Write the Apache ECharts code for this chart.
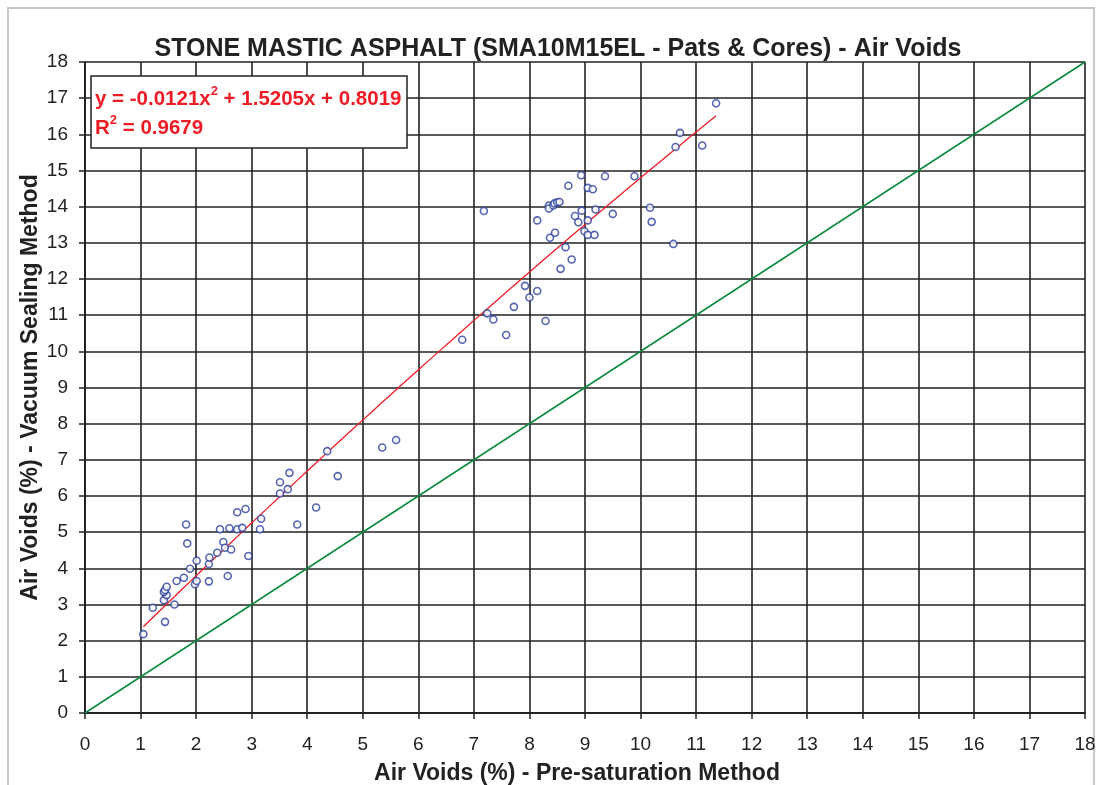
<!DOCTYPE html>
<html>
<head>
<meta charset="utf-8">
<title>SMA Air Voids</title>
<script src="https://cdn.jsdelivr.net/npm/echarts@6/dist/echarts.min.js"></script>
<style>
  html, body { margin: 0; padding: 0; background: #fff; }
  #chart { width: 1097px; height: 785px; }
</style>
</head>
<body>
<div id="chart"></div>
<script>
// Pre-saturation method (x) vs vacuum sealing method (y)
const preSat = [
  1.05, 1.22, 1.44, 1.42, 1.47, 1.42, 1.44, 1.47, 1.61, 1.65,
  1.78, 1.82, 1.84, 1.89, 1.98, 2.01, 2.01, 2.23, 2.23, 2.24,
  2.38, 2.43, 2.49, 2.52, 2.57, 2.60, 2.63, 2.74, 2.74, 2.83,
  2.89, 2.94, 3.15, 3.17, 3.51, 3.51, 3.65, 3.68, 3.82, 4.16,
  4.36, 4.55, 5.35, 5.60, 6.79, 7.24, 7.35, 7.58, 7.72, 7.92,
  8.00, 8.14, 8.29, 7.18, 8.14, 8.37, 8.46, 8.56, 8.65, 8.76,
  8.35, 8.35, 8.43, 8.45, 8.50, 8.54, 8.70, 8.82, 8.88, 8.94,
  8.93, 8.99, 9.05, 9.05, 9.05, 9.14, 9.17, 9.19, 9.36, 9.50,
  9.89, 10.17, 10.20, 10.59, 10.63, 10.71, 11.11, 11.36
];
const vacSeal = [
  2.18, 2.91, 2.52, 3.12, 3.26, 3.35, 3.40, 3.49, 3.00, 3.65,
  3.74, 5.21, 4.69, 3.99, 3.56, 3.65, 4.21, 3.64, 4.12, 4.30,
  4.43, 5.08, 4.73, 4.57, 3.79, 5.11, 4.52, 5.55, 5.08, 5.12,
  5.64, 4.34, 5.08, 5.37, 6.07, 6.38, 6.19, 6.64, 5.21, 5.68,
  7.24, 6.55, 7.34, 7.55, 10.32, 11.05, 10.88, 10.45, 11.23, 11.81,
  11.49, 11.67, 10.84, 13.88, 13.62, 13.14, 13.28, 12.28, 12.88, 12.54,
  14.03, 13.95, 14.03, 14.09, 14.12, 14.13, 14.58, 13.74, 13.57, 13.89,
  14.87, 13.32, 14.52, 13.62, 13.22, 14.48, 13.22, 13.92, 14.84, 13.80,
  14.84, 13.97, 13.58, 12.97, 15.65, 16.04, 15.69, 16.86
];

// trendline shown on the chart: y = a x^2 + b x + c, drawn between the first and last sample
const trendCoef = [-0.0121, 1.5205, 0.8019];
const trendRange = [1.05, 11.36];
const equalityLine = [[0, 0], [18, 18]];

const axisTicks = [0, 18, 1]; // min, max, interval

const points = preSat.map((x, i) => [x, vacSeal[i]]);

const trend = [];
for (let k = 0; k <= 60; k++) {
  const x = trendRange[0] + (trendRange[1] - trendRange[0]) * k / 60;
  trend.push([x, trendCoef[0] * x * x + trendCoef[1] * x + trendCoef[2]]);
}

const chart = echarts.init(document.getElementById('chart'));

const axisCommon = {
  type: 'value',
  min: axisTicks[0],
  max: axisTicks[1],
  interval: axisTicks[2],
  nameLocation: 'middle',
  nameMoveOverlap: false,
  nameTextStyle: { fontFamily: 'Liberation Sans', fontWeight: 'bold', fontSize: 23, color: '#222' },
  axisLine: { show: true, onZero: false, lineStyle: { color: '#222', width: 2 } },
  axisTick: { show: true, inside: false, length: 6, lineStyle: { color: '#222', width: 1.5 } },
  axisLabel: { fontFamily: 'Liberation Sans', fontSize: 19, color: '#222' },
  splitLine: { show: true, lineStyle: { color: '#222', width: 1.6 } }
};

const option = {
  animation: false,
  backgroundColor: '#fff',
  title: {
    text: 'STONE MASTIC ASPHALT (SMA10M15EL - Pats & Cores) - Air Voids',
    left: 553,
    textAlign: 'center',
    top: 32,
    textStyle: { fontFamily: 'Liberation Sans', fontWeight: 'bold', fontSize: 25, color: '#222' }
  },
  grid: { left: 85, right: 12, top: 62, bottom: 72, outerBoundsMode: 'none' },
  xAxis: Object.assign({}, axisCommon, {
    name: 'Air Voids (%) - Pre-saturation Method',
    nameGap: 49,
    nameTextStyle: Object.assign({}, axisCommon.nameTextStyle, { padding: [0, 16, 0, 0] }),
    axisLabel: Object.assign({}, axisCommon.axisLabel, { margin: 22 })
  }),
  yAxis: Object.assign({}, axisCommon, {
    name: 'Air Voids (%) - Vacuum Sealing Method',
    nameGap: 43,
    axisLabel: Object.assign({}, axisCommon.axisLabel, { margin: 17 })
  }),
  series: [
    {
      name: 'Equality',
      type: 'line',
      data: equalityLine,
      symbol: 'none',
      lineStyle: { color: '#0a8a3c', width: 1.5 },
      z: 3
    },
    {
      name: 'Trend',
      type: 'line',
      data: trend,
      symbol: 'none',
      smooth: false,
      lineStyle: { color: '#ee1c24', width: 1.3 },
      z: 4
    },
    {
      name: 'Samples',
      type: 'scatter',
      data: points,
      symbol: 'circle',
      symbolSize: 7,
      itemStyle: { color: '#fff', borderColor: '#2b3f9e', borderWidth: 1.6 },
      z: 5
    }
  ],
  graphic: [
    {
      type: 'rect',
      shape: { x: 8, y: 8, width: 1086, height: 790 },
      style: { fill: 'none', stroke: '#c8c8c8', lineWidth: 2 },
      silent: true,
      z: 0
    },
    {
      type: 'rect',
      shape: { x: 91, y: 76, width: 316, height: 72 },
      style: { fill: '#fff', stroke: '#222', lineWidth: 1.5 },
      z: 10
    },
    {
      type: 'text',
      left: 95,
      top: 85,
      z: 11,
      style: {
        text: '{t|y = -0.0121x}{s|2}{t| + 1.5205x + 0.8019}\n{t|R}{s|2}{t| = 0.9679}',
        rich: {
          t: { fontFamily: 'Liberation Sans', fontWeight: 'bold', fontSize: 20.5, fill: '#ee1c24', lineHeight: 29 },
          s: { fontFamily: 'Liberation Sans', fontWeight: 'bold', fontSize: 13, fill: '#ee1c24', lineHeight: 14, verticalAlign: 'top' }
        }
      }
    }
  ]
};

chart.setOption(option);
</script>
</body>
</html>
